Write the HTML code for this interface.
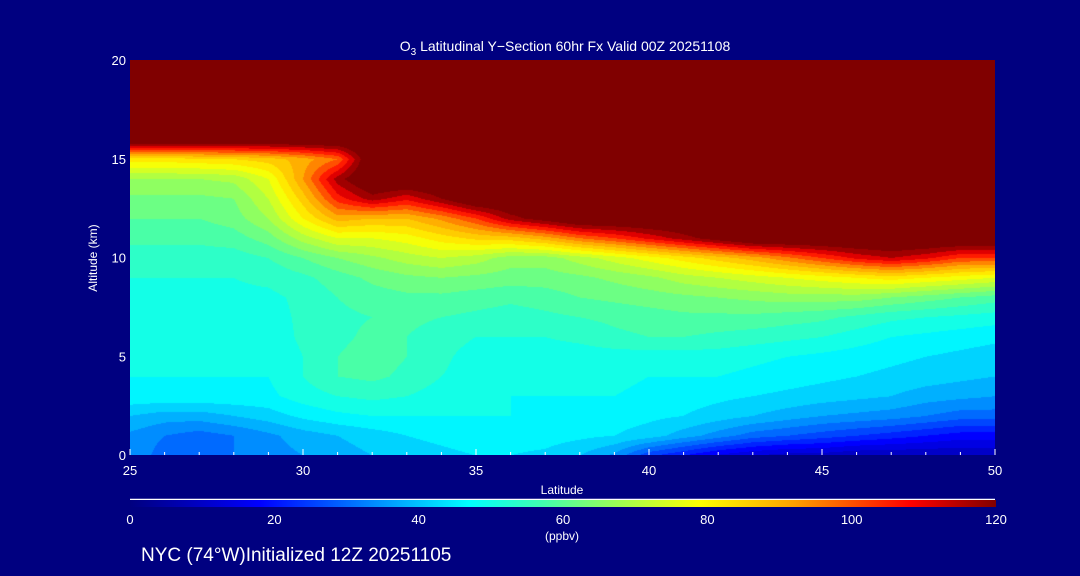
<!DOCTYPE html>
<html><head><meta charset="utf-8">
<style>
html,body{margin:0;padding:0;background:#000080;}
#wrap{position:relative;width:1080px;height:576px;background:#000080;overflow:hidden;font-family:"Liberation Sans",sans-serif;color:#fff;}
canvas{position:absolute;left:130px;top:60px;}
svg{position:absolute;left:0;top:0;}
</style></head>
<body>
<div id="wrap">
<canvas id="field" width="865" height="395"></canvas>
<svg id="ov" width="1080" height="576"></svg>
</div>
<script>
const lats=[25,26,27,28,29,30,31,32,33,34,35,36,37,38,39,40,41,42,43,44,45,46,47,48,49,50];
const alts=[0,1,2,3,4,5,6,7,8,9,10,11,12,13,14,15,16,17,18,19,20];
const o3=[
[35,30,30,32,34,36,38,40,42,43,44,44,43,40,35,25,20,15,12,10,10,8,8,8,8,8],
[35,32,30,32,35,38,40,42,44,45,46,46,46,45,44,42,38,34,30,28,26,24,22,20,18,18],
[40,38,38,40,42,45,47,48,48,48,48,48,47,47,46,45,44,42,40,38,36,35,34,32,30,30],
[47,47,47,47,47,50,52,53,52,50,49,48,48,48,48,47,46,45,44,43,42,41,40,38,37,36],
[48,48,48,48,48,52,56,57,55,52,50,49,49,49,49,48,48,48,47,46,45,44,43,42,41,40],
[48,48,48,48,48,52,56,58,56,53,50,50,50,50,50,50,50,50,49,48,47,46,45,44,43,42],
[49,49,49,49,49,53,55,57,56,54,52,52,52,53,55,56,56,55,54,53,52,50,48,47,46,45],
[50,50,50,50,50,53,55,56,57,56,55,54,55,56,57,58,59,59,59,58,57,55,53,52,51,50],
[51,51,51,51,51,53,56,58,59,59,58,57,58,60,61,62,63,64,65,66,66,66,64,62,60,58],
[52,52,52,52,53,55,58,61,63,64,63,62,62,63,65,67,70,72,74,76,78,80,82,80,78,76],
[54,54,54,54,56,60,64,67,70,72,70,66,66,70,74,78,82,86,90,95,100,105,108,105,100,100],
[57,57,57,58,62,70,76,76,78,82,85,86,90,96,100,105,110,115,120,120,120,120,120,120,120,120],
[60,60,60,62,68,80,90,88,88,93,100,110,115,120,120,120,120,120,120,120,120,120,120,120,120,120],
[63,63,63,64,72,86,102,110,105,112,120,120,120,120,120,120,120,120,120,120,120,120,120,120,120,120],
[68,68,68,69,76,92,110,120,120,120,120,120,120,120,120,120,120,120,120,120,120,120,120,120,120,120],
[82,82,83,84,86,90,96,120,120,120,120,120,120,120,120,120,120,120,120,120,120,120,120,120,120,120],
[120,120,120,120,120,120,120,120,120,120,120,120,120,120,120,120,120,120,120,120,120,120,120,120,120,120],
[120,120,120,120,120,120,120,120,120,120,120,120,120,120,120,120,120,120,120,120,120,120,120,120,120,120],
[120,120,120,120,120,120,120,120,120,120,120,120,120,120,120,120,120,120,120,120,120,120,120,120,120,120],
[120,120,120,120,120,120,120,120,120,120,120,120,120,120,120,120,120,120,120,120,120,120,120,120,120,120],
[120,120,120,120,120,120,120,120,120,120,120,120,120,120,120,120,120,120,120,120,120,120,120,120,120,120]
];
const xTicks=[25,30,35,40,45,50];
const yTicks=[0,5,10,15,20];
const cbTicks=[0,20,40,60,80,100,120];

const X0=130,X1=995,Y0=455,Y1=60;
const xs=v=>X0+(v-25)/25*(X1-X0);
const ys=v=>Y0-(v/20)*(Y0-Y1);
const stops=[[0,[0,0,128]],[18,[0,0,255]],[47,[0,255,255]],[57,[64,255,176]],[68,[160,255,80]],[79,[255,255,0]],[92,[255,160,0]],[104,[255,0,0]],[112,[128,0,0]],[120,[128,0,0]]];
const cbStops=[[0,[0,0,128]],[18,[0,0,255]],[47,[0,255,255]],[57,[64,255,176]],[68,[160,255,80]],[79,[255,255,0]],[92,[255,160,0]],[108,[255,0,0]],[120,[128,0,0]]];
function col(v){
  v=Math.max(0,Math.min(120,v));
  for(let i=1;i<stops.length;i++){if(v<=stops[i][0]){const a=stops[i-1],b=stops[i];const t=(v-a[0])/(b[0]-a[0]);return a[1].map((c,k)=>Math.round(c+(b[1][k]-c)*t));}}
  return stops[stops.length-1][1];
}
const cv=document.getElementById('field'),ctx=cv.getContext('2d');
const img=ctx.createImageData(cv.width,cv.height);
for(let py=0;py<cv.height;py++){
  const alt=(Y0-(py+60))/(Y0-Y1)*20;
  const fa=Math.max(0,Math.min(alts.length-1.0001,alt));const ia=Math.floor(fa),ta=fa-ia;
  for(let px=0;px<cv.width;px++){
    const lat=25+(px+0.5)/cv.width*25;
    const fl=Math.max(0,Math.min(lats.length-1.0001,lat-25));const il=Math.floor(fl),tl=fl-il;
    let v=(o3[ia][il]*(1-tl)+o3[ia][il+1]*tl)*(1-ta)+(o3[ia+1][il]*(1-tl)+o3[ia+1][il+1]*tl)*ta;
    v=Math.floor(v/4)*4+2;
    const c=col(v);const k=(py*cv.width+px)*4;
    img.data[k]=c[0];img.data[k+1]=c[1];img.data[k+2]=c[2];img.data[k+3]=255;
  }
}
ctx.putImageData(img,0,0);
const NS='http://www.w3.org/2000/svg',svg=document.getElementById('ov');
function mk(t,a,txt){const e=document.createElementNS(NS,t);for(const k in a)e.setAttribute(k,a[k]);if(txt!==undefined)e.textContent=txt;svg.appendChild(e);return e;}
const defs=mk('defs',{});const g=document.createElementNS(NS,'linearGradient');g.setAttribute('id','cbg');defs.appendChild(g);
cbStops.forEach(s=>{const st=document.createElementNS(NS,'stop');st.setAttribute('offset',(s[0]/120*100)+'%');st.setAttribute('stop-color','rgb('+s[1].join(',')+')');g.appendChild(st);});
let e;
e=mk('text',{x:565,y:51,'text-anchor':'middle','font-size':14,fill:'#fff'});e.innerHTML='O<tspan font-size="10" dy="4">3</tspan><tspan dy="-4"> Latitudinal Y−Section 60hr  Fx Valid 00Z 20251108</tspan>';

for(let l=25;l<=50;l++){e=mk('line',{x1:xs(l),x2:xs(l),y1:Y0,y2:Y0-(l%5===0?6:3),stroke:'#fff','stroke-width':1});}
xTicks.forEach(t=>{e=mk('text',{x:xs(t),y:475,'text-anchor':'middle','font-size':13,fill:'#fff'},String(t));
});
yTicks.forEach(t=>{e=mk('text',{x:126,y:ys(t)+5,'text-anchor':'end','font-size':13,fill:'#fff'},String(t));
});
e=mk('text',{x:562,y:494,'text-anchor':'middle','font-size':12,fill:'#fff'},'Latitude');

e=mk('text',{x:97,y:258,'text-anchor':'middle','font-size':12,fill:'#fff',transform:'rotate(-90 97 258)'},'Altitude (km)');

e=mk('line',{x1:130,x2:995,y1:499.5,y2:499.5,stroke:'#fff','stroke-width':1.5});

e=mk('rect',{x:130,y:500,width:866,height:7,fill:'url(#cbg)'});

cbTicks.forEach(t=>{e=mk('text',{x:130+t/120*866,y:524,'text-anchor':'middle','font-size':13,fill:'#fff'},String(t));
});
e=mk('text',{x:562,y:540,'text-anchor':'middle','font-size':12,fill:'#fff'},'(ppbv)');

e=mk('text',{x:141,y:561,'font-size':19,fill:'#fff'},'NYC (74°W)Initialized 12Z 20251105');

</script>
</body></html>
